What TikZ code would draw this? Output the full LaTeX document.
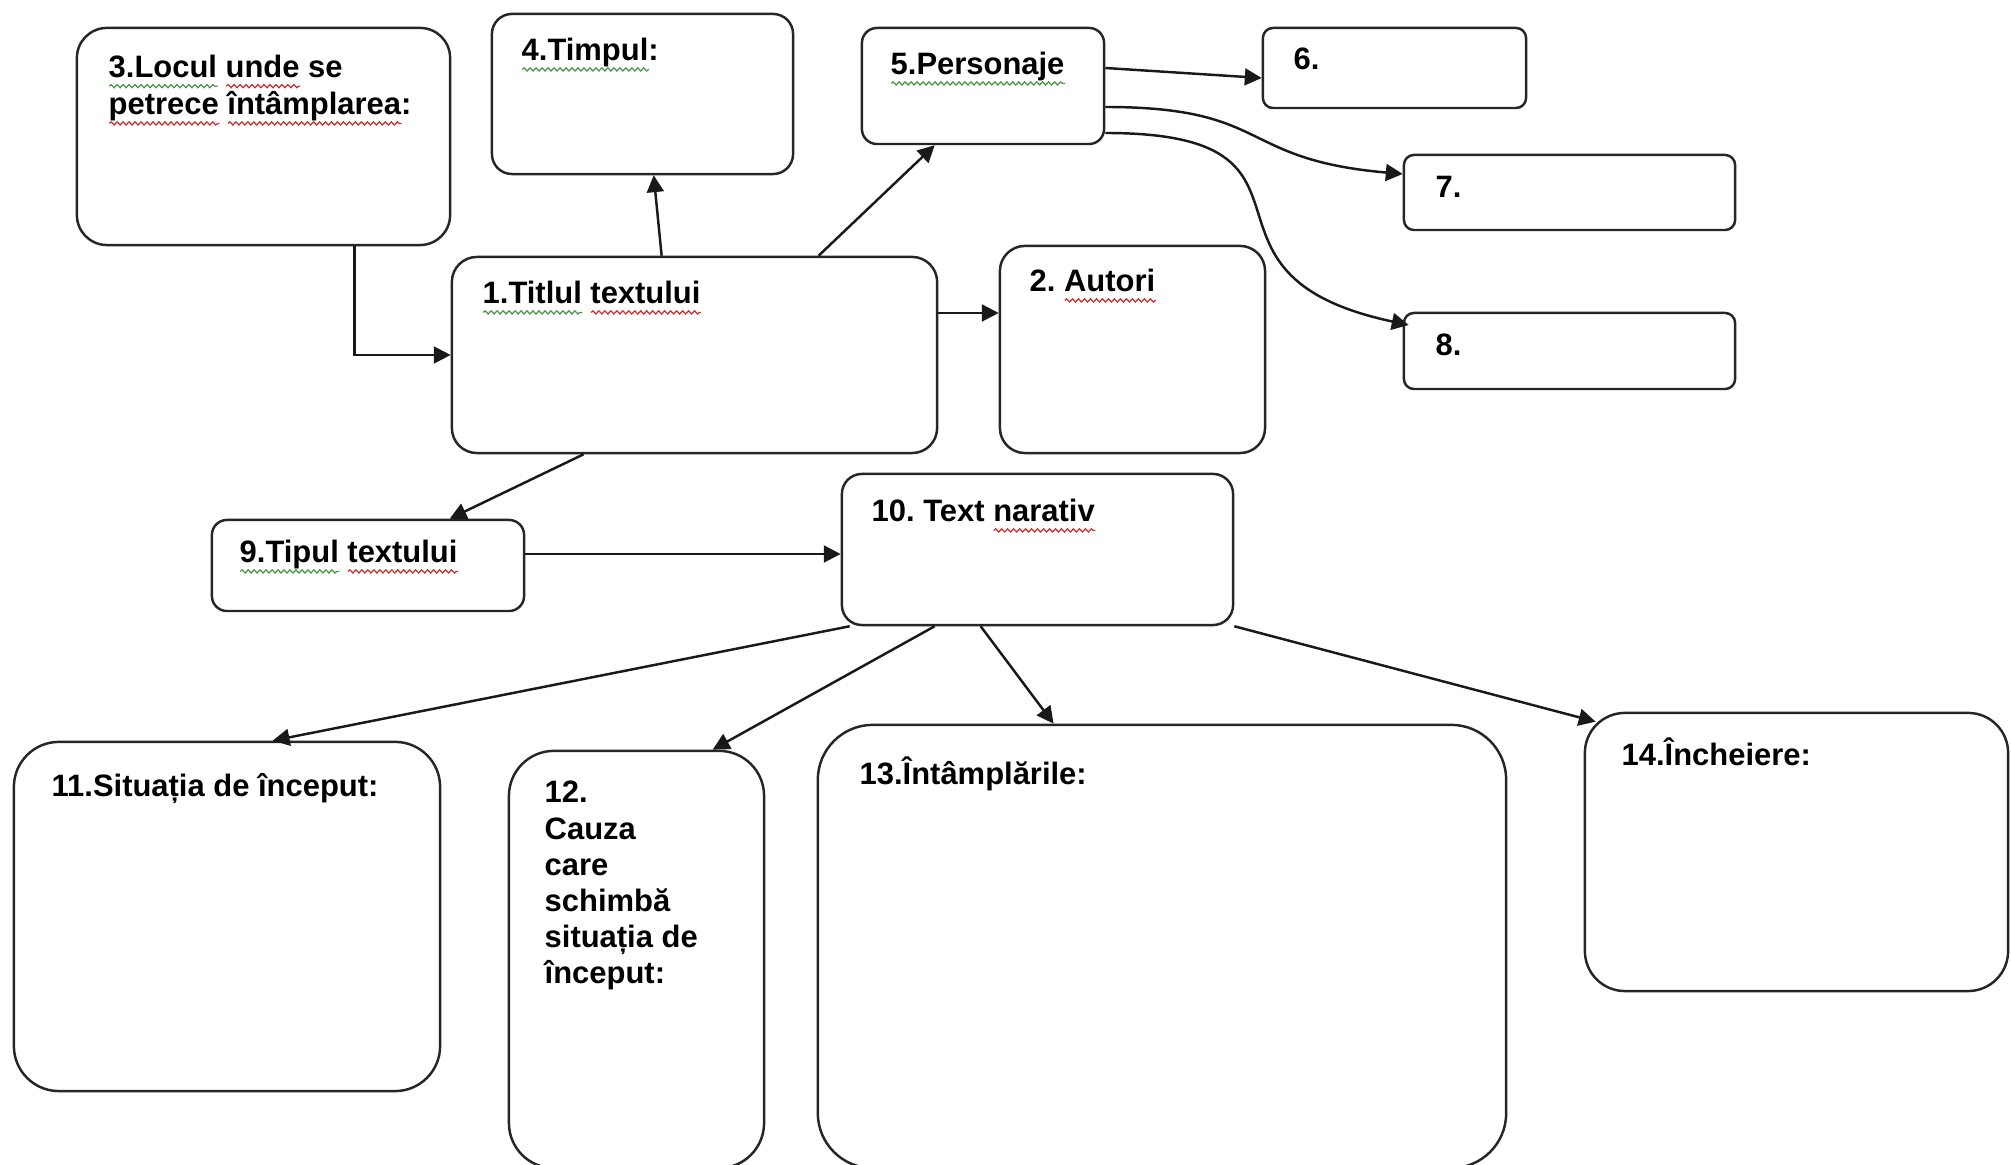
\documentclass[tikz,border=0pt]{standalone}
\usepackage{fontspec}
\setmainfont{Liberation Sans}
\usetikzlibrary{arrows.meta,calc,positioning,decorations.pathmorphing}
\definecolor{spellred}{RGB}{205,45,45}
\definecolor{spellgreen}{RGB}{70,150,70}
\frenchspacing
\newsavebox\wavybox
\newlength\wavylen
\newcommand\wavy[2]{\sbox\wavybox{#2}\setlength\wavylen{\wd\wavybox}%
  \rlap{\tikz[baseline=0pt]\draw[#1,line width=0.35pt,decorate,decoration={snake,amplitude=0.45pt,segment length=1.7pt}] (0pt,-2.4pt) -- (\wavylen,-2.4pt);}\usebox\wavybox}

\begin{document}
\begin{tikzpicture}[x=0.01cm,y=-0.01cm]
		\tikzset{box/.style={draw=black!85,line width=0.7pt,rounded corners=#1,inner sep=0pt},
			box/.default=4pt,
			lbl/.style={anchor=base west,inner sep=0pt,align=left,font=\bfseries\fontsize{8.8pt}{10.3pt}\selectfont},
			arr/.style={-{Triangle[length=4.8pt,width=4.8pt]},line width=0.7pt,black!90}}
		\clip (0,0) rectangle (2011,1165);

		% casete
		\node [box=0.3cm,minimum width=3.73cm,minimum height=2.17cm] (loc) at (263.5,136.5) {};
		\node [box=0.2cm,minimum width=3.01cm,minimum height=1.60cm] (timp) at (642.5,94) {};
		\node [box=0.15cm,minimum width=2.42cm,minimum height=1.16cm] (pers) at (983,86) {};
		\node [box=0.1cm,minimum width=2.63cm,minimum height=0.80cm] (p6) at (1394.5,68) {};
		\node [box=0.1cm,minimum width=3.31cm,minimum height=0.75cm] (p7) at (1569.5,192.5) {};
		\node [box=0.1cm,minimum width=3.31cm,minimum height=0.76cm] (p8) at (1569.5,351) {};
		\node [box=0.25cm,minimum width=4.85cm,minimum height=1.96cm] (titlu) at (694.5,355) {};
		\node [box=0.25cm,minimum width=2.65cm,minimum height=2.07cm] (autori) at (1132.5,349.5) {};
		\node [box=0.15cm,minimum width=3.12cm,minimum height=0.91cm] (tip) at (368,565.5) {};
		\node [box=0.2cm,minimum width=3.91cm,minimum height=1.51cm] (narativ) at (1037.5,549.5) {};
		\node [box=0.45cm,minimum width=4.26cm,minimum height=3.49cm] (sit) at (227,916.5) {};
		\node [box=0.45cm,minimum width=2.55cm,minimum height=4.17cm] (cauza) at (636.5,959.5) {};
		\node [box=0.55cm,minimum width=6.88cm,minimum height=4.43cm] (intam) at (1162,946.5) {};
		\node [box=0.4cm,minimum width=4.23cm,minimum height=2.78cm] (inch) at (1796.5,852) {};

		% texte (la textele pe mai multe randuri, baza e ultimul rand)
		\node [lbl,font=\bfseries\fontsize{8.8pt}{9.4pt}\selectfont] (locT) at (108,115) {\wavy{spellgreen}{3.Locul} \wavy{spellred}{unde} se\\\wavy{spellred}{petrece} \wavy{spellred}{întâmplarea}:};
		\node [lbl] (timpT) at (521,61) {\wavy{spellgreen}{4.Timpul}:};
		\node [lbl] (persT) at (890,75) {\wavy{spellgreen}{5.Personaje}};
		\node [lbl] (p6T) at (1293,70) {6.};
		\node [lbl] (p7T) at (1435,198) {7.};
		\node [lbl] (p8T) at (1435,356) {8.};
		\node [lbl] (titluT) at (482,304) {\wavy{spellgreen}{1.Titlul} \wavy{spellred}{textului}};
		\node [lbl] (autoriT) at (1029,292) {2. \wavy{spellred}{Autori}};
		\node [lbl] (tipT) at (239,563) {\wavy{spellgreen}{9.Tipul} \wavy{spellred}{textului}};
		\node [lbl] (narativT) at (871,522) {10. Text \wavy{spellred}{narativ}};
		\node [lbl] (sitT) at (51,797) {11.Situația de început:};
		\node [lbl] (cauzaT) at (544,984) {12.\\Cauza\\care\\schimbă\\situația de\\început:};
		\node [lbl] (intamT) at (859,785) {13.Întâmplările:};
		\node [lbl] (inchT) at (1621,766) {14.Încheiere:};

		% sageti
		\draw [arr] ($(loc.south west)+(279,0)$) |- (titlu.west);
		\draw [arr] ($(titlu.north west)+(211,0)$) -- ($(timp.south west)+(163,0)$);
		\draw [arr] ($(titlu.north west)+(368,0)$) -- ($(pers.south west)+(74,0)$);
		\draw [arr] ($(titlu.east)+(0,-42)$) -- ($(autori.west)+(0,-36.5)$);
		\draw [arr] ($(pers.east)+(0,-18)$) -- ($(p6.west)+(0,10)$);
		\draw [arr] ($(pers.east)+(0,21)$) to[out=0,in=175,looseness=1.4] ($(p7.west)+(0,-18.5)$);
		\draw [arr] ($(pers.east)+(0,47)$) to[out=0,in=168,looseness=1.75] ($(p8.west)+(6,-26)$);
		\draw [arr] ($(titlu.south west)+(133,0)$) -- ($(tip.north west)+(239,0)$);
		\draw [arr] ($(tip.east)+(0,-11.5)$) -- ($(narativ.west)+(0,4.5)$);
		\draw [arr] ($(narativ.south west)+(9,0)$) -- ($(sit.north west)+(260,0)$);
		\draw [arr] ($(narativ.south west)+(94,0)$) -- ($(cauza.north west)+(205,0)$);
		\draw [arr] ($(narativ.south west)+(140,0)$) -- ($(intam.north west)+(237,0)$);
		\draw [arr] (narativ.south east) -- ($(inch.north west)+(12,10)$);
	\end{tikzpicture}
\end{document}
